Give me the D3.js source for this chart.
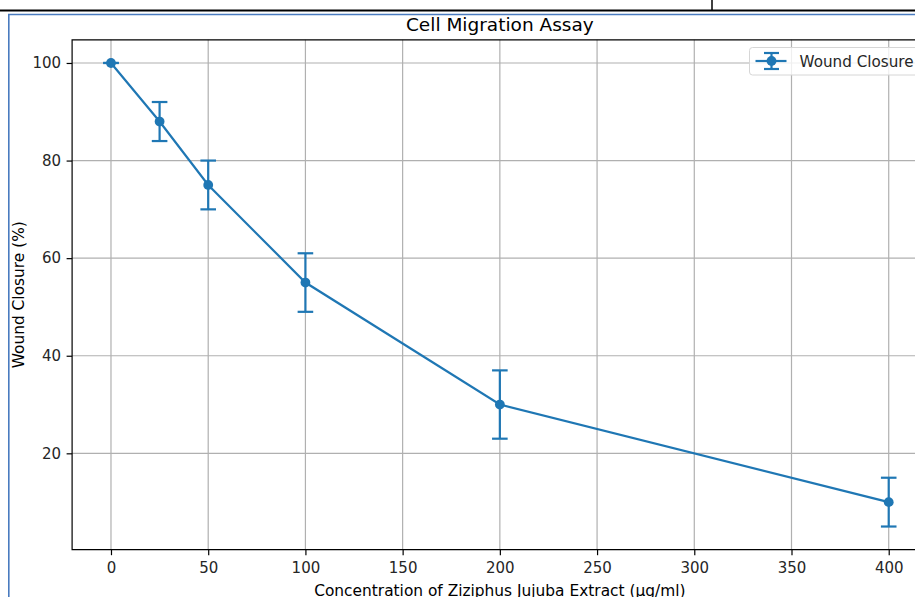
<!DOCTYPE html>
<html>
<head>
<meta charset="utf-8">
<script src="https://cdn.jsdelivr.net/npm/d3@7"></script>
<style>
  body { margin: 0; background: #fff; }
  svg { display: block; font-family: 'DejaVu Sans', sans-serif; }
</style>
</head>
<body>
<div id="chart"></div>
<script>
const concentrations = [0, 25, 50, 100, 200, 400]
const closure = [100, 88, 75, 55, 30, 10]
const closureErr = [0, 4, 5, 6, 7, 5]
const xTicks = [0, 50, 100, 150, 200, 250, 300, 350, 400]
const yTicks = [20, 40, 60, 80, 100]

const width = 915
const height = 597
const color = '#1f77b4'
const font = "'DejaVu Sans', sans-serif"

const data = concentrations.map((c, i) => ({ x: c, y: closure[i], e: closureErr[i] }))

const plot = { left: 72.1, right: 927.6, top: 39.8, bottom: 549.7 }

// matplotlib style 5% margins
const xScale = d3.scaleLinear().domain([-20, 420]).range([plot.left, plot.right])
const yMin = d3.min(data, d => d.y - d.e)
const yMax = d3.max(data, d => d.y + d.e)
const yPad = (yMax - yMin) * 0.05
const yScale = d3
  .scaleLinear()
  .domain([yMin - yPad, yMax + yPad])
  .range([plot.bottom, plot.top])

const svg = d3
  .select('#chart')
  .append('svg')
  .attr('width', width)
  .attr('height', height)

// surrounding page frame bits
svg.append('line')
  .attr('x1', 0).attr('x2', width).attr('y1', 10.5).attr('y2', 10.5)
  .attr('stroke', '#000').attr('stroke-width', 2)
svg.append('line')
  .attr('x1', 712).attr('x2', 712).attr('y1', 0).attr('y2', 11)
  .attr('stroke', '#000').attr('stroke-width', 1.5)
svg.append('path')
  .attr('d', `M8.8,${height} V14.5 H${width}`)
  .attr('fill', 'none')
  .attr('stroke', '#4a7bbf')
  .attr('stroke-width', 1.6)

// grid
const grid = svg.append('g').attr('class', 'grid')
grid.selectAll('line.gx')
  .data(xTicks)
  .enter()
  .append('line')
  .attr('x1', d => xScale(d)).attr('x2', d => xScale(d))
  .attr('y1', plot.top).attr('y2', plot.bottom)
  .attr('stroke', '#b0b0b0').attr('stroke-width', 1.2)
grid.selectAll('line.gy')
  .data(yTicks)
  .enter()
  .append('line')
  .attr('x1', plot.left).attr('x2', plot.right)
  .attr('y1', d => yScale(d)).attr('y2', d => yScale(d))
  .attr('stroke', '#b0b0b0').attr('stroke-width', 1.2)

// axes
const xAxis = svg.append('g')
  .attr('transform', `translate(0,${plot.bottom})`)
  .call(d3.axisBottom(xScale).tickValues(xTicks).tickSize(5.5).tickPadding(7).tickSizeOuter(0))
const yAxis = svg.append('g')
  .attr('transform', `translate(${plot.left},0)`)
  .call(d3.axisLeft(yScale).tickValues(yTicks).tickSize(5.5).tickPadding(5.5).tickSizeOuter(0))
;[xAxis, yAxis].forEach(a => {
  a.attr('font-family', font).attr('font-size', 15)
  a.select('.domain').remove()
  a.selectAll('.tick line').attr('stroke', '#000').attr('stroke-width', 1.2)
  a.selectAll('.tick text').attr('fill', '#262626')
})

// spines
svg.append('path')
  .attr('d', `M${plot.right},${plot.top} H${plot.left} V${plot.bottom} H${plot.right}`)
  .attr('fill', 'none')
  .attr('stroke', '#000')
  .attr('stroke-width', 1.2)

// error bars
const capHalf = 7.8
const eb = svg.append('g').attr('stroke', color).attr('stroke-width', 2.2)
eb.selectAll('line.v')
  .data(data.filter(d => d.e > 0))
  .enter()
  .append('line')
  .attr('x1', d => xScale(d.x)).attr('x2', d => xScale(d.x))
  .attr('y1', d => yScale(d.y - d.e)).attr('y2', d => yScale(d.y + d.e))
data.forEach(d => {
  ;[d.y - d.e, d.y + d.e].forEach(v => {
    eb.append('line')
      .attr('x1', xScale(d.x) - capHalf).attr('x2', xScale(d.x) + capHalf)
      .attr('y1', yScale(v)).attr('y2', yScale(v))
  })
})

// line + markers
const line = d3.line().x(d => xScale(d.x)).y(d => yScale(d.y))
svg.append('path')
  .datum(data)
  .attr('d', line)
  .attr('fill', 'none')
  .attr('stroke', color)
  .attr('stroke-width', 2.2)
svg.selectAll('circle.pt')
  .data(data)
  .enter()
  .append('circle')
  .attr('class', 'pt')
  .attr('cx', d => xScale(d.x))
  .attr('cy', d => yScale(d.y))
  .attr('r', 4.9)
  .attr('fill', color)

// title and labels
svg.append('text')
  .attr('x', (plot.left + plot.right) / 2)
  .attr('y', 30.5)
  .attr('text-anchor', 'middle')
  .attr('font-size', 18.5)
  .attr('fill', '#000')
  .text('Cell Migration Assay')
svg.append('text')
  .attr('x', (plot.left + plot.right) / 2)
  .attr('y', 595.5)
  .attr('text-anchor', 'middle')
  .attr('font-size', 15.4)
  .attr('fill', '#000')
  .text('Concentration of Ziziphus Jujuba Extract (μg/ml)')
svg.append('text')
  .attr('transform', `translate(23.5,${(plot.top + plot.bottom) / 2}) rotate(-90)`)
  .attr('text-anchor', 'middle')
  .attr('font-size', 15.4)
  .attr('fill', '#000')
  .text('Wound Closure (%)')

// legend
const lg = svg.append('g').attr('transform', 'translate(749.5,47.5)')
lg.append('rect')
  .attr('width', 172).attr('height', 27.5).attr('rx', 3)
  .attr('fill', '#fff').attr('fill-opacity', 0.8)
  .attr('stroke', '#d6d6d6').attr('stroke-width', 1)
lg.append('line').attr('x1', 6).attr('x2', 37).attr('y1', 13.5).attr('y2', 13.5)
  .attr('stroke', color).attr('stroke-width', 2.2)
lg.append('line').attr('x1', 22).attr('x2', 22).attr('y1', 5.5).attr('y2', 21.5)
  .attr('stroke', color).attr('stroke-width', 2.2)
;[5.5, 21.5].forEach(y => lg.append('line').attr('x1', 14.5).attr('x2', 29.5).attr('y1', y).attr('y2', y)
  .attr('stroke', color).attr('stroke-width', 2.2))
lg.append('circle').attr('cx', 22).attr('cy', 13.5).attr('r', 4.9).attr('fill', color)
lg.append('text').attr('x', 50).attr('y', 19).attr('font-size', 15.2).attr('fill', '#262626')
  .text('Wound Closure')
</script>
</body>
</html>
